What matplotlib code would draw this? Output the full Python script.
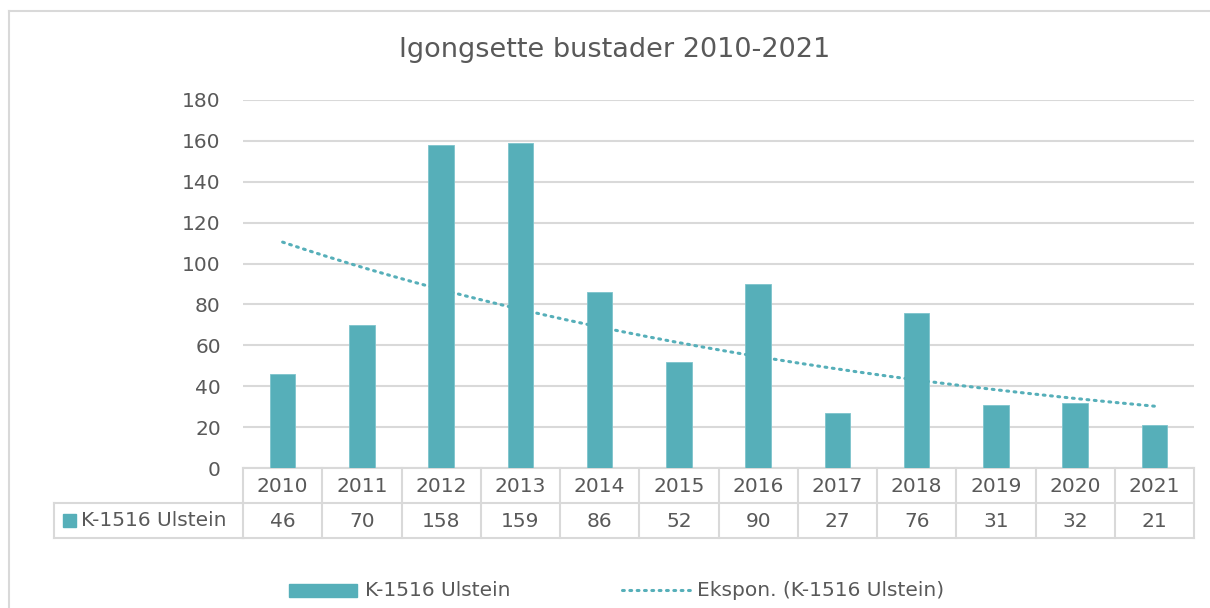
import numpy as np
import matplotlib.pyplot as plt
import matplotlib.transforms as mtransforms
from matplotlib.patches import Rectangle
from matplotlib.lines import Line2D

# Data
years = ["2010", "2011", "2012", "2013", "2014", "2015",
         "2016", "2017", "2018", "2019", "2020", "2021"]
values = [46, 70, 158, 159, 86, 52, 90, 27, 76, 31, 32, 21]
series_name = "K-1516 Ulstein"
trend_name = "Ekspon. (K-1516 Ulstein)"
title = "Igongsette bustader 2010-2021"
yticks = [0, 20, 40, 60, 80, 100, 120, 140, 160, 180]

BAR = "#56AFB9"
GRID = "#D9D9D9"
TXT = "#595959"
FS = 14.5

plt.rcParams['font.family'] = ["DejaVu Sans"]

W, H = 1210, 608
fig = plt.figure(figsize=(W / 100, H / 100), dpi=100)

# overlay in pixel coordinates for the frame, table and legend
over = fig.add_axes([0, 0, 1, 1])
over.set_xlim(0, W)
over.set_ylim(H, 0)
over.axis("off")

# outer chart border: only top and left are inside the picture
over.plot([9, W], [11, 11], color=GRID, lw=1.5)
over.plot([9, 9], [11, H], color=GRID, lw=1.5)

# main plot area
x0, x1, ytop, ybot = 243, 1194, 100, 468
ax = fig.add_axes([x0 / W, (H - ybot) / H, (x1 - x0) / W, (ybot - ytop) / H])
x = np.arange(len(years))
ax.bar(x, values, width=0.32, color=BAR, edgecolor="#7DC4CC", linewidth=0.6, zorder=3)

# exponential trendline (least squares on log values)
b, a = np.polyfit(x, np.log(values), 1)
xt = np.linspace(0, len(years) - 1, 200)
ax.plot(xt, np.exp(a + b * xt), color=BAR, lw=2.2, ls=(0, (0.6, 1.8)),
        dash_capstyle="round", zorder=4)

ax.set_xlim(-0.5, len(years) - 0.5)
ax.set_ylim(0, 180)
ax.set_yticks(yticks)
ax.yaxis.grid(True, color=GRID, lw=1.5)
ax.set_axisbelow(True)
ax.tick_params(axis="y", length=0, pad=16, labelsize=FS, labelcolor=TXT)
ax.set_xticks([])
for s in ax.spines.values():
    s.set_visible(False)
ax.patch.set_alpha(0)

# title
over.text(615, 50, title, ha="center", va="center", fontsize=19.5, color=TXT)

# data table: x from data axis, y in pixels
tr = mtransforms.blended_transform_factory(ax.transData, over.transData)
r0, r1, r2 = 468, 503, 538
edges = np.arange(len(years) + 1) - 0.5
for e in edges:
    over.add_line(Line2D([e, e], [r0, r2], color=GRID, lw=1.5, transform=tr, clip_on=False))
for r in (r0, r1, r2):
    over.add_line(Line2D([edges[0], edges[-1]], [r, r], color=GRID, lw=1.5,
                         transform=tr, clip_on=False))
# row header cell
over.plot([54, 243], [r1, r1], color=GRID, lw=1.5)
over.plot([54, 243], [r2, r2], color=GRID, lw=1.5)
over.plot([54, 54], [r1, r2], color=GRID, lw=1.5)
over.add_patch(Rectangle((63, 514), 13, 13, color=BAR))
over.text(81, (r1 + r2) / 2, series_name, ha="left", va="center", fontsize=FS, color=TXT)
for i, (yr, v) in enumerate(zip(years, values)):
    over.text(i, (r0 + r1) / 2 + 1, yr, ha="center", va="center", fontsize=FS,
              color=TXT, transform=tr)
    over.text(i, (r1 + r2) / 2 + 1, str(v), ha="center", va="center", fontsize=FS,
              color=TXT, transform=tr)

# legend
over.add_patch(Rectangle((289, 584), 68, 13, color=BAR))
over.text(365, 591, series_name, ha="left", va="center", fontsize=FS, color=TXT)
over.plot([622, 690], [590, 590], color=BAR, lw=2.2, ls=(0, (0.6, 1.8)),
          dash_capstyle="round")
over.text(697, 591, trend_name, ha="left", va="center", fontsize=FS, color=TXT)

fig.savefig("out.png", dpi=100, facecolor="white")
